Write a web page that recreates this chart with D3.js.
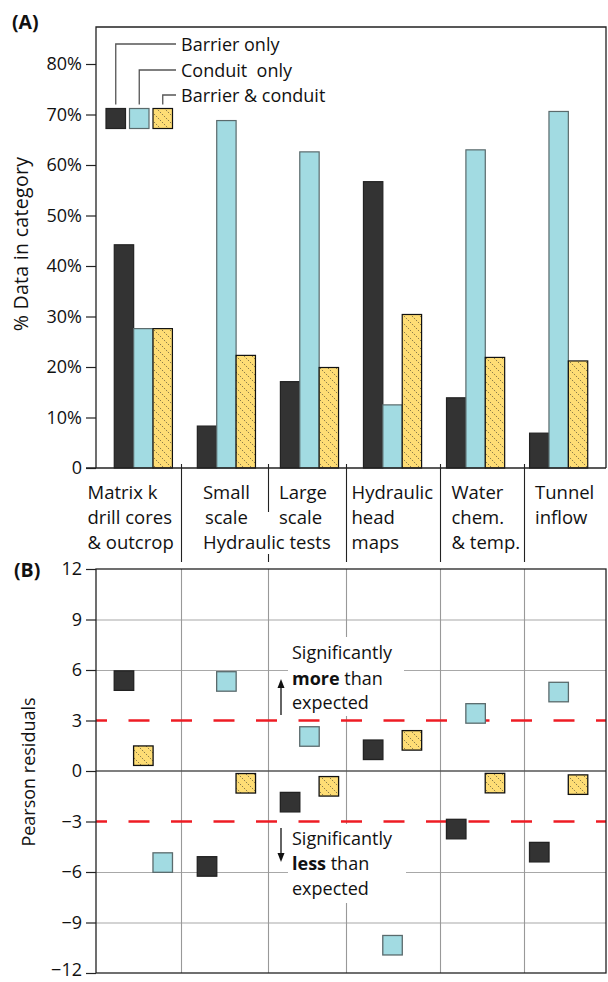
<!DOCTYPE html>
<html><head><meta charset="utf-8">
<script src="https://cdn.jsdelivr.net/npm/d3@7"></script>
<style>
body{margin:0;background:#fff}
text{font-family:"Open Sans",sans-serif;fill:#111}
</style>
</head><body>
<svg id="chart" width="608" height="982"></svg>
<script>
// ---------------- data ----------------
const categories = ["Matrix k", "Small scale", "Large scale", "Hydraulic head maps", "Water chem. & temp.", "Tunnel inflow"];
const seriesNames = ["Barrier only", "Conduit  only", "Barrier & conduit"];
const pctBarrier = [44.2, 8.3, 17.1, 56.7, 13.9, 6.9];
const pctConduit = [27.6, 68.8, 62.6, 12.5, 63.0, 70.6];
const pctBoth    = [27.6, 22.3, 19.9, 30.4, 21.9, 21.2];
const resBarrier = [5.37, -5.67, -1.85, 1.26, -3.45, -4.82];
const resConduit = [-5.44, 5.32, 2.05, -10.35, 3.42, 4.69];
const resBoth    = [0.91, -0.73, -0.91, 1.82, -0.72, -0.81];
const pctTicks = [0, 10, 20, 30, 40, 50, 60, 70, 80];
const resTicks = [-12, -9, -6, -3, 0, 3, 6, 9, 12];
const sigThresholds = [3, -3];
const categoryLabelLines = [
  ["Matrix k", "drill cores", "& outcrop"],
  ["Small", "scale"],
  ["Large", "scale"],
  ["Hydraulic", "head", "maps"],
  ["Water", "chem.", "& temp."],
  ["Tunnel", "inflow"]
];
const sharedLabel = "Hydraulic tests";
// slot of each series (barrier, conduit, both) inside each category in panel B
const residualSlots = [[0, 2, 1], [0, 1, 2], [0, 1, 2], [0, 1, 2], [0, 1, 2], [0, 1, 2]];
const yTitleA = "% Data in category";
const yTitleB = "Pearson residuals";

// ---------------- layout ----------------
const L = 96, R = 606;
const A = {top: 27, y0: 468, y80: 64};
const B = {top: 569, bottom: 973};
const colors = ["#333333", "#a2dbe2", "#fedd75"];
const strokes = ["#222", "#5a6a6c", "#111"];

const svg = d3.select("#chart");

// hatch pattern
const defs = svg.append("defs");
const pat = defs.append("pattern").attr("id", "hatch").attr("patternUnits", "userSpaceOnUse")
  .attr("width", 8).attr("height", 8);
pat.append("rect").attr("width", 8).attr("height", 8).attr("fill", colors[2]);
pat.append("path").attr("d", "M-2,-2 L10,10 M-2,6 L2,10 M6,-2 L10,2")
  .attr("stroke", "#222").attr("stroke-width", 0.8).attr("stroke-dasharray", "1,1.8");
const fillFor = i => i === 2 ? "url(#hatch)" : colors[i];

const x0 = d3.scaleBand().domain(categories).range([L, R]).paddingInner(0.3).paddingOuter(0.22);
const x1 = d3.scaleBand().domain([0, 1, 2]).range([0, x0.bandwidth()]);
const yA = d3.scaleLinear().domain([0, 80]).range([A.y0, A.y80]);
const yB = d3.scaleLinear().domain([-12, 12]).range([B.bottom, B.top]);

// separators between categories (offset from mid-gap)
const sepOffsets = [-4.2, -0.3, -5, 5.9, 6.6];
const sepX = sepOffsets.map((o, i) => {
  const a = x0(categories[i]) + x0.bandwidth();
  const b = x0(categories[i + 1]);
  return Math.round((a + b) / 2 + o) + 0.5;
});

// ================= PANEL A =================
const gA = svg.append("g");
gA.append("path").attr("d", `M${L},${A.y0} V${A.top} H${R} V${A.y0}`)
  .attr("fill", "none").attr("stroke", "#222").attr("stroke-width", 1.3);

const pctSeries = [pctBarrier, pctConduit, pctBoth];
const barData = [];
categories.forEach((c, ci) => pctSeries.forEach((s, si) => barData.push({c, si, v: s[ci]})));
gA.selectAll("rect.bar").data(barData).join("rect").attr("class", "bar")
  .attr("x", d => x0(d.c) + x1(d.si))
  .attr("y", d => yA(d.v))
  .attr("width", x1.bandwidth())
  .attr("height", d => yA(0) - yA(d.v))
  .attr("fill", d => fillFor(d.si))
  .attr("stroke", d => strokes[d.si]).attr("stroke-width", 1.2);

const axA = d3.axisLeft(yA).tickValues(pctTicks).tickSize(10).tickPadding(4)
  .tickFormat(d => d === 0 ? "0" : d + "%");
const gax = gA.append("g").attr("transform", `translate(${L},0)`).call(axA);
gax.select(".domain").remove();
gax.selectAll("line").attr("stroke", "#222").attr("stroke-width", 1.2);
gax.selectAll("text").style("font-size", "18px").attr("fill", "#111");
gA.append("line").attr("x1", L - 10).attr("x2", R).attr("y1", A.y0).attr("y2", A.y0)
  .attr("stroke", "#222").attr("stroke-width", 1.3);

gA.append("text").attr("transform", `translate(28,244) rotate(-90)`)
  .attr("text-anchor", "middle").style("font-size", "19.5px").style("letter-spacing", "0.3px").text(yTitleA);

gA.append("text").attr("x", 12).attr("y", 29).style("font-size", "19.5px").style("font-weight", "bold").text("(A)");

// legend
const legX = [106, 129.5, 153];
const legY = 108.5, legS = 19.5;
const legLineY = [44, 70, 95];
seriesNames.forEach((n, i) => {
  gA.append("rect").attr("x", legX[i]).attr("y", legY).attr("width", legS).attr("height", legS + 0.5)
    .attr("fill", fillFor(i)).attr("stroke", strokes[i]).attr("stroke-width", 1.2);
  const cx = legX[i] + legS / 2;
  gA.append("path").attr("d", `M${cx},${legY - 4} V${legLineY[i]} H176`)
    .attr("fill", "none").attr("stroke", "#555").attr("stroke-width", 1.3);
  gA.append("text").attr("x", 181).attr("y", legLineY[i] + 7).style("font-size", "18px")
    .style("white-space", "pre").attr("xml:space", "preserve").text(n);
});

// separators in label area
const sepSegs = [[[464, 562]], [[464, 512], [554, 562]], [[464, 562]], [[464, 562]], [[464, 562]]];
sepX.forEach((x, i) => sepSegs[i].forEach(s => {
  gA.append("line").attr("x1", x).attr("x2", x).attr("y1", s[0]).attr("y2", s[1])
    .attr("stroke", "#222").attr("stroke-width", 1.1);
}));

// category labels
const lineBase = [498.5, 523.8, 549];
const labelPos = [
  {x: () => 87.5, anchor: "start"},
  {x: c => x0(c) + x0.bandwidth() / 2, anchor: "middle"},
  {x: () => 279, anchor: "start"},
  {x: () => 351.5, anchor: "start"},
  {x: () => 451.5, anchor: "start"},
  {x: () => 535, anchor: "start"}
];
categories.forEach((c, ci) => {
  categoryLabelLines[ci].forEach((ln, li) => {
    gA.append("text").attr("x", labelPos[ci].x(c)).attr("y", lineBase[li])
      .attr("text-anchor", labelPos[ci].anchor).style("font-size", "18.5px").text(ln);
  });
});
gA.append("text").attr("x", (x0(categories[1]) + x0(categories[2]) + x0.bandwidth()) / 2 - 1)
  .attr("y", lineBase[2]).attr("text-anchor", "middle").style("font-size", "18.5px").text(sharedLabel);

// ================= PANEL B =================
const gB = svg.append("g");
gB.selectAll("line.hg").data(resTicks.filter(t => Math.abs(t) !== 12 && t !== 0 && Math.abs(t) !== 3))
  .join("line").attr("class", "hg")
  .attr("x1", L).attr("x2", R).attr("y1", d => yB(d) + 0.5).attr("y2", d => yB(d) + 0.5)
  .attr("stroke", "#a8a8a8").attr("stroke-width", 1.2);
gB.selectAll("line.vg").data(sepX).join("line").attr("class", "vg")
  .attr("x1", d => d).attr("x2", d => d).attr("y1", B.top).attr("y2", B.bottom)
  .attr("stroke", "#999").attr("stroke-width", 1.1);
gB.append("line").attr("x1", L).attr("x2", R).attr("y1", yB(0)).attr("y2", yB(0))
  .attr("stroke", "#555").attr("stroke-width", 1.3);

// annotation boxes (white backgrounds)
gB.append("rect").attr("x", 288).attr("y", 637).attr("width", 116).attr("height", 79).attr("fill", "#fff");
gB.append("rect").attr("x", 288).attr("y", 824).attr("width", 118).attr("height", 79).attr("fill", "#fff");

gB.selectAll("line.sig").data(sigThresholds).join("line").attr("class", "sig")
  .attr("x1", L).attr("x2", R).attr("y1", d => yB(d)).attr("y2", d => yB(d))
  .attr("stroke", "#ee1c24").attr("stroke-width", 2.4)
  .attr("stroke-dasharray", "21,21.5").attr("stroke-dashoffset", 10);

gB.append("rect").attr("x", L).attr("y", B.top).attr("width", R - L).attr("height", B.bottom - B.top)
  .attr("fill", "none").attr("stroke", "#222").attr("stroke-width", 1.3);

const axB = d3.axisLeft(yB).tickValues(resTicks).tickSize(10).tickPadding(4)
  .tickFormat(d => d < 0 ? "\u2212" + Math.abs(d) : String(d));
const gbx = gB.append("g").attr("transform", `translate(${L},0)`).call(axB);
gbx.select(".domain").remove();
gbx.selectAll("line").attr("stroke", "#222").attr("stroke-width", 1.2);
gbx.selectAll("text").style("font-size", "18px").attr("fill", "#111")
  .attr("dy", d => d === -12 ? "0.15em" : "0.32em");

gB.append("text").attr("transform", `translate(35,772) rotate(-90)`)
  .attr("text-anchor", "middle").style("font-size", "18px").text(yTitleB);
gB.append("text").attr("x", 14).attr("y", 577).style("font-size", "19.5px").style("font-weight", "bold").text("(B)");

const resSeries = [resBarrier, resConduit, resBoth];
const mk = [];
categories.forEach((c, ci) => resSeries.forEach((s, si) => mk.push({c, ci, si, v: s[ci]})));
const ms = 19.5;
gB.selectAll("rect.mk").data(mk).join("rect").attr("class", "mk")
  .attr("x", d => x0(d.c) + x1(residualSlots[d.ci][d.si]) + x1.bandwidth() / 2 - ms / 2)
  .attr("y", d => yB(d.v) - ms / 2)
  .attr("width", ms).attr("height", ms)
  .attr("fill", d => fillFor(d.si)).attr("stroke", d => strokes[d.si]).attr("stroke-width", 1.3);

function annot(lines, ys) {
  lines.forEach((parts, i) => {
    const t = gB.append("text").attr("x", 292).attr("y", ys[i]).style("font-size", "18px");
    parts.forEach(p => t.append("tspan").style("font-weight", p[1] ? "bold" : "normal").text(p[0]));
  });
}
annot([[["Significantly", 0]], [["more", 1], [" than", 0]], [["expected", 0]]], [659, 684.5, 708.5]);
annot([[["Significantly", 0]], [["less", 1], [" than", 0]], [["expected", 0]]], [845, 870, 894.5]);

function arrow(x, yFrom, yTo) {
  const dir = yTo < yFrom ? -1 : 1;
  gB.append("line").attr("x1", x).attr("x2", x).attr("y1", yFrom).attr("y2", yTo - dir * 6)
    .attr("stroke", "#111").attr("stroke-width", 1.3);
  gB.append("path").attr("d", `M${x},${yTo} L${x - 3.5},${yTo - dir * 9} L${x + 3.5},${yTo - dir * 9} Z`)
    .attr("fill", "#111");
}
arrow(281, 715, 679);
arrow(281, 828, 862);
</script>
</body></html>
